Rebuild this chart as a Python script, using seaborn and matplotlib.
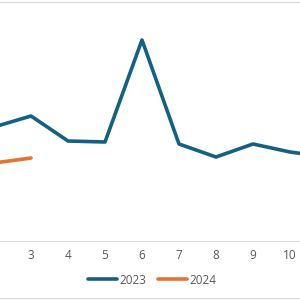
import matplotlib
matplotlib.use("Agg")
import matplotlib.pyplot as plt
import seaborn as sns
import pandas as pd
from matplotlib.lines import Line2D

# Data (arbitrary units, 0 at the x-axis)
months_2023 = [2, 3, 4, 5, 6, 7, 8, 9, 10, 11]
values_2023 = [57, 62.5, 50, 49.5, 100.5, 48.5, 42, 48.5, 44.5, 42]
months_2024 = [2, 3]
values_2024 = [39, 41.5]
tick_labels = ["3", "4", "5", "6", "7", "8", "9", "10"]
series_names = ["2023", "2024"]
colors = ["#156082", "#E97132"]

df = pd.concat([
    pd.DataFrame({"month": months_2023, "value": values_2023, "year": "2023"}),
    pd.DataFrame({"month": months_2024, "value": values_2024, "year": "2024"}),
])

sns.set_style("white")
plt.rcParams["font.family"] = ["Open Sans", "DejaVu Sans"]

fig = plt.figure(figsize=(3, 3), dpi=100)
ax = fig.add_axes([0, 59 / 300, 1, 241 / 300])

sns.lineplot(data=df, x="month", y="value", hue="year",
             palette=dict(zip(series_names, colors)), linewidth=2.6,
             ax=ax, legend=False, sort=False)

ax.set_xticks([int(t) for t in tick_labels])
ax.set_xticklabels(tick_labels)
ax.set_xlim(3 - 31 / 37, 3 + 269 / 37)
ax.set_ylim(0, 120.5)
ax.tick_params(axis="x", length=0, pad=6, labelsize=8.5, labelcolor="#595959")
ax.set_yticks([])
ax.set_xlabel("")
ax.set_ylabel("")
for s in ["top", "left", "right"]:
    ax.spines[s].set_visible(False)
ax.spines["bottom"].set_color("#D9D9D9")
ax.spines["bottom"].set_linewidth(0.8)
ax.patch.set_alpha(0)

# chart-area border lines at top and bottom
fig.add_artist(Line2D([0, 1], [1 - 2 / 300, 1 - 2 / 300], transform=fig.transFigure,
                      color="#D9D9D9", linewidth=0.8))
fig.add_artist(Line2D([0, 1], [2 / 300, 2 / 300], transform=fig.transFigure,
                      color="#D9D9D9", linewidth=0.8))

handles = [Line2D([0], [0], color=c, linewidth=2.6) for c in colors]
fig.legend(handles, series_names, loc="center", bbox_to_anchor=(0.507, 20 / 300),
           ncol=2, frameon=False, handlelength=2.5, handletextpad=0.2,
           columnspacing=0.95, fontsize=8.5, labelcolor="#595959")

fig.savefig("out.png", dpi=100)
